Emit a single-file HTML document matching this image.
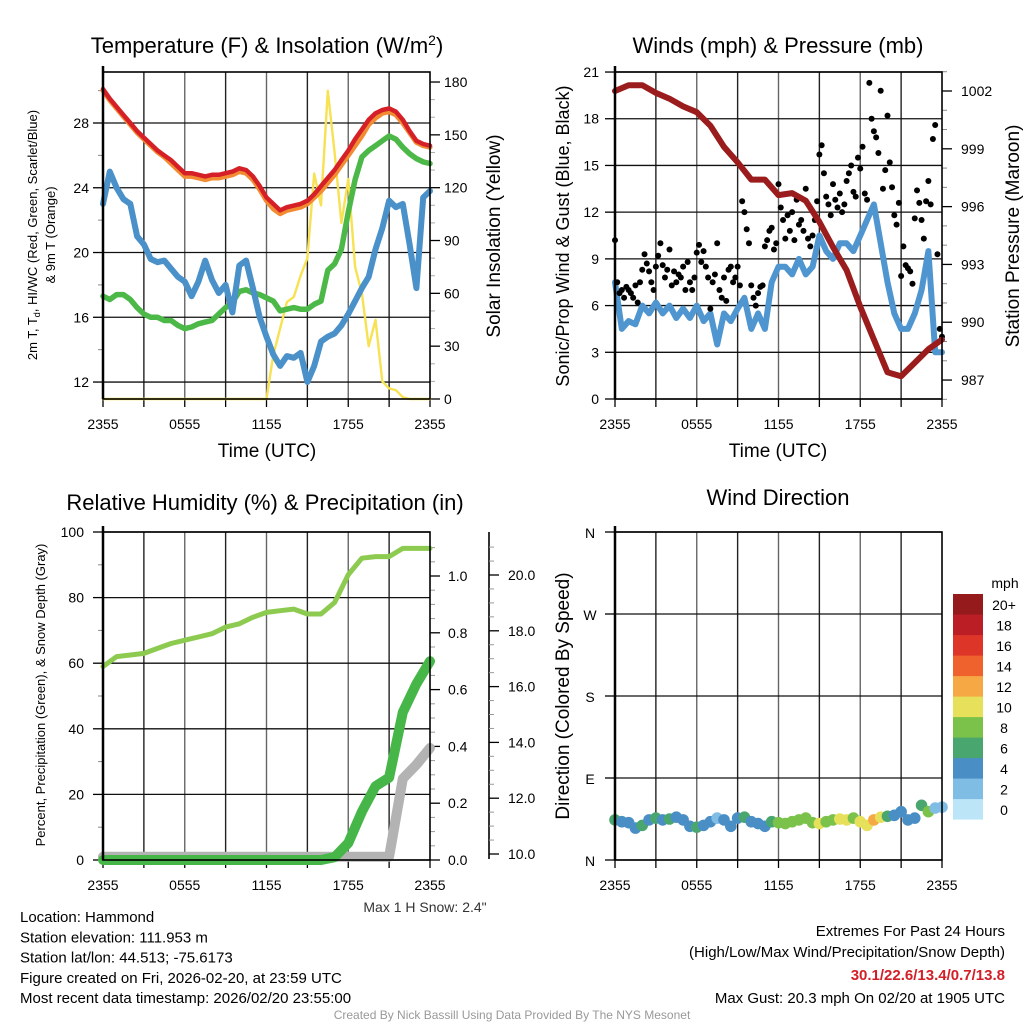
<!DOCTYPE html>
<html><head><meta charset="utf-8"><style>
html,body{margin:0;padding:0;background:#fff;}
svg{display:block;font-family:"Liberation Sans",Arial,sans-serif;}
</style></head><body>
<svg id="s" width="1024" height="1024" viewBox="0 0 1024 1024" xmlns="http://www.w3.org/2000/svg">
<rect x="0" y="0" width="1024" height="1024" fill="#fff"/>
</svg>
<script>
// ---------- DATA ----------
const timeTicks = ["2355","0555","1155","1755","2355"];
const tempF = [30.1,29.5,29.0,28.5,28.0,27.5,27.1,26.7,26.3,26.0,25.7,25.3,24.9,24.9,24.8,24.7,24.8,24.8,24.9,25.0,25.2,25.1,24.7,24.1,23.4,23.0,22.6,22.8,22.9,23.0,23.2,23.6,24.1,24.6,25.1,25.7,26.3,27.0,27.6,28.2,28.6,28.8,28.9,28.7,28.2,27.5,26.9,26.7,26.6];
const temp9m = [30.0,29.4,28.9,28.4,27.9,27.4,27.0,26.6,26.2,25.9,25.5,25.1,24.7,24.7,24.6,24.5,24.6,24.6,24.7,24.8,25.0,24.9,24.5,23.9,23.2,22.7,22.4,22.6,22.7,22.8,23.0,23.4,23.8,24.3,24.8,25.4,26.0,26.6,27.2,27.9,28.3,28.6,28.7,28.5,28.0,27.4,26.8,26.6,26.5];
const hiwc = [17.3,17.1,17.4,17.4,17.1,16.6,16.2,16.0,16.0,15.8,15.8,15.5,15.3,15.4,15.6,15.7,15.8,16.2,16.6,16.9,17.6,17.7,17.5,17.4,17.2,17.0,16.4,16.5,16.6,16.5,16.5,16.8,17.0,18.9,19.3,20.2,22.5,24.5,25.9,26.3,26.6,26.9,27.2,27.0,26.5,26.1,25.8,25.6,25.5];
const dewF = [23.0,25.0,24.0,23.3,23.0,21.0,20.5,19.6,19.4,19.5,19.0,18.5,18.2,17.3,18.2,19.5,18.3,17.5,18.0,16.3,19.2,19.5,17.8,16.0,14.8,13.7,13.0,13.6,13.5,13.8,12.0,13.0,14.5,14.8,15.0,15.5,16.2,17.0,17.8,18.5,20.2,21.5,23.2,22.8,23.0,20.5,17.8,23.4,23.8];
const solar = [0,0,0,0,0,0,0,0,0,0,0,0,0,0,0,0,0,0,0,0,0,0,0,0,0,25,40,55,58,70,80,128,110,175,140,100,125,75,60,30,45,10,6,5,1,0,0,0,0];
const windMph = [7.5,4.5,5.0,4.8,6.0,5.5,6.2,5.5,6.0,5.2,5.8,5.2,6.0,5.0,5.5,3.5,5.5,5.0,5.8,6.5,4.5,5.5,4.5,7.5,8.5,8.5,8.0,9.0,8.0,8.5,10.5,9.5,9.0,10.0,10.0,9.5,10.5,11.5,12.5,10.0,7.5,5.5,4.5,4.5,5.5,7.0,9.5,3.0,3.0];
const gustMph = [10.2,7.5,6.8,7.0,6.5,7.2, 7.0,6.8,6.5,7.3,6.2,7.5, 8.3,9.3,8.7,8.2,7.5,7.0, 8.5,9.2,10.0,8.6,7.8,8.3, 9.6,7.3,8.2,7.5,8.0,7.8, 8.5,7.0,8.8,7.5,7.0,7.8, 9.4,9.9,8.8,9.5,8.5,7.8, 5.8,7.5,8.0,10.0,7.0,6.5, 7.8,6.3,8.3,8.5,7.5,7.8, 8.5,7.3,12.7,12.0,10.9,10.0, 7.3,6.5,6.0,6.8,7.2,7.3, 9.8,10.2,10.8,11.0,9.6,10.0, 13.8,12.3,11.5,10.3,11.8,10.8, 12.0,10.2,12.8,11.2,11.5,10.8, 13.5,10.3,9.8,10.5,11.5,12.7, 15.7,16.3,14.5,13.0,12.5,11.8, 13.8,12.8,12.3,13.2,12.0,12.5, 14.0,14.5,15.0,13.3,13.0,15.5, 14.8,16.2,13.2,12.8,20.3,18.0, 17.2,16.8,15.8,19.8,13.5,14.7, 18.2,15.2,13.6,11.8,11.2,12.6, 7.9,9.8,8.6,8.4,8.2,7.4, 11.6,13.4,12.6,11.5,10.3,12.7, 14.0,12.5,16.7,17.6,9.3,4.5, 4.0];
const pressureMb = [1002.0,1002.3,1002.3,1001.9,1001.6,1001.2,1000.9,1000.2,999.1,998.3,997.4,997.4,996.6,996.7,996.3,995.2,993.9,992.7,990.8,989.1,987.4,987.2,987.9,988.6,989.1];
const rhPct = [59,62,62.5,63,64.5,66,67,68,69,71,72,74,75.5,76,76.5,75,75,78.5,87,92,92.5,92.5,95,95,95];
const precipIn = [0,0,0,0,0,0,0,0,0,0,0,0,0,0,0,0,0,0.01,0.06,0.17,0.26,0.29,0.52,0.62,0.70];
const snowIn = [9.9,9.9,9.9,9.9,9.9,9.9,9.9,9.9,9.9,9.9,9.9,9.9,9.9,9.9,9.9,9.9,9.9,9.9,9.9,9.9,9.9,9.9,12.7,13.2,13.8];
const windDir = [44,42,41,35,38,44,46,44,45,47,44,37,36,38,42,46,44,37,46,47,42,40,37,42,41,40,42,44,46,41,40,42,44,45,44,46,42,38,44,47,48,49,53,44,46,60,53,57,58];
const tempTicks = [12,16,20,24,28];
const solarTicks = [0,30,60,90,120,150,180];
const windTicks = [0,3,6,9,12,15,18,21];
const presTicks = [987,990,993,996,999,1002];
const rhTicks = [0,20,40,60,80,100];
const precipTicks = [0,0.2,0.4,0.6,0.8,1.0];
const snowTicks = [10,12,14,16,18,20];
const dirTicks = ["N","E","S","W","N"];
const speedBins = ["0","2","4","6","8","10","12","14","16","18","20+"];
const speedColors = ["#bde5f8","#80bde5","#4a8ec6","#4aa66f","#7bc24a","#e6e05a","#f6a845","#ef622d","#dd3528","#bb1f25","#941a1c"];

// ---------- HELPERS ----------
const S = document.getElementById('s');
const NS = 'http://www.w3.org/2000/svg';
function el(tag, attrs, name, parent){
  const e = document.createElementNS(NS, tag);
  for (const k in attrs) e.setAttribute(k, attrs[k]);
  
  
  (parent||S).appendChild(e);
  return e;
}
function txt(x,y,s,size,name,opts){
  opts=opts||{};
  const t = el('text',{x:x,y:y,'font-size':size,'text-anchor':opts.anchor||'middle',fill:opts.fill||'#000','font-weight':opts.weight||'normal'},name,opts.parent);
  if(opts.rot) t.setAttribute('transform','rotate('+opts.rot+' '+x+' '+y+')');
  t.textContent=s; return t;
}
function xs(x0,x1){return h=>x0+h/24*(x1-x0);}
function pathOf(vals, step, X, Y){
  return vals.map((v,i)=>(i?'L':'M')+X(i*step).toFixed(1)+' '+Y(v).toFixed(1)).join(' ');
}
function frame(g,x0,x1,y0,y1,pre){
  const X=xs(x0,x1);
  for(let h=3;h<24;h+=3){ el('line',{x1:X(h),x2:X(h),y1:y0,y2:y1,stroke:(h%6?'#222':'#666'),'stroke-width':1.4},pre+'-vgrid',g); }
  for(let h=0;h<=24;h+=3){ el('line',{x1:X(h),x2:X(h),y1:y1,y2:y1+8,stroke:'#000','stroke-width':1.3},pre+'-xtick',g); }
  timeTicks.forEach((s,i)=>txt(X(i*6),y1+30,s,14,pre+'-xtick-label',{parent:g}));
}
function hgrid(g,x0,x1,y,pre){ el('line',{x1:x0,x2:x1,y1:y,y2:y,stroke:'#111','stroke-width':1.3},pre+'-hgrid',g); }
function border(g,x0,x1,y0,y1,pre){ el('rect',{x:x0,y:y0,width:x1-x0,height:y1-y0,fill:'none',stroke:'#000','stroke-width':1.6},pre+'-border',g); el('line',{x1:x0,x2:x0,y1:y0-6,y2:y1,stroke:'#000','stroke-width':2.5},pre+'-left-spine',g);}
function line(g,d,color,w,name){ return el('path',{d:d,fill:'none',stroke:color,'stroke-width':w,'stroke-linejoin':'round','stroke-linecap':'round'},name,g); }

// ---------- PANEL 1 ----------
(function(){
  const g=el('g',{},'temperature-panel');
  const x0=103,x1=430,y0=72,y1=399, X=xs(x0,x1);
  const yT=v=>123+(28-v)*16.19, yS=v=>399-v*1.761;
  txt(267,53,'Temperature (F) & Insolation (W/m',22,'temperature-title',{parent:g}).innerHTML='Temperature (F) &amp; Insolation (W/m<tspan dy="-8" font-size="14">2</tspan><tspan dy="8">)</tspan>';
  frame(g,x0,x1,y0,y1,'temp');
  tempTicks.forEach(v=>{hgrid(g,x0,x1,yT(v),'temp'); el('line',{x1:x0-10,x2:x0,y1:yT(v),y2:yT(v),stroke:'#000','stroke-width':1.3},'temp-ytick',g); txt(x0-14,yT(v)+5,String(v),14,'temp-ytick-label',{parent:g,anchor:'end'});});
  for(let v=14;v<=30;v+=4){ el('line',{x1:x0-5,x2:x0,y1:yT(v),y2:yT(v),stroke:'#888','stroke-width':1},'temp-minor-tick',g); }
  solarTicks.forEach(v=>{el('line',{x1:x1,x2:x1+10,y1:yS(v),y2:yS(v),stroke:'#000','stroke-width':1.3},'solar-ytick',g); txt(x1+14,yS(v)+5,String(v),14,'solar-ytick-label',{parent:g,anchor:'start'});});
  for(let v=10;v<180;v+=10){ if(v%30) el('line',{x1:x1,x2:x1+5,y1:yS(v),y2:yS(v),stroke:'#aaa','stroke-width':1},'solar-minor-tick',g); }
  line(g,pathOf(solar,0.5,X,yS),'#f6e253',2.4,'solar-insolation-line');
  line(g,pathOf(hiwc,0.5,X,yT),'#4cb848',5.5,'hi-wc-line');
  line(g,pathOf(dewF,0.5,X,yT),'#4a90c9',6,'dewpoint-line');
  line(g,pathOf(temp9m,0.5,X,yT),'#f28c33',5,'temp-9m-line');
  line(g,pathOf(tempF,0.5,X,yT),'#d62027',4.5,'temp-2m-line');
  border(g,x0,x1,y0,y1,'temp');
  txt(267,457,'Time (UTC)',19,'temp-x-title',{parent:g});
  const t1=txt(37,235,'',13,'temp-y-title',{parent:g,rot:-90});
  t1.innerHTML='2m T, T<tspan dy="3" font-size="9">d</tspan><tspan dy="-3">, HI/WC (Red, Green, Scarlet/Blue)</tspan>';
  txt(55,235,'& 9m T (Orange)',13,'temp-y-title-2',{parent:g,rot:-90});
  txt(500,236,'Solar Insolation (Yellow)',19,'solar-y-title',{parent:g,rot:-90});
})();

// ---------- PANEL 2 ----------
(function(){
  const g=el('g',{},'wind-panel');
  const x0=615,x1=942,y0=72,y1=399, X=xs(x0,x1);
  const yW=v=>399-v*15.57, yP=v=>91+(1002-v)*19.27;
  txt(778,53,'Winds (mph) & Pressure (mb)',22,'wind-title',{parent:g});
  frame(g,x0,x1,y0,y1,'wind');
  windTicks.forEach(v=>{hgrid(g,x0,x1,yW(v),'wind'); el('line',{x1:x0-10,x2:x0,y1:yW(v),y2:yW(v),stroke:'#000','stroke-width':1.3},'wind-ytick',g); txt(x0-16,yW(v)+5,String(v),14,'wind-ytick-label',{parent:g,anchor:'end'});});
  presTicks.forEach(v=>{el('line',{x1:x1,x2:x1+10,y1:yP(v),y2:yP(v),stroke:'#000','stroke-width':1.3},'pres-ytick',g); txt(x1+19,yP(v)+5,String(v),14,'pres-ytick-label',{parent:g,anchor:'start'});});
  for(let v=986;v<=1003;v++){ if(v%3) el('line',{x1:x1,x2:x1+5,y1:yP(v),y2:yP(v),stroke:'#888','stroke-width':1},'pres-minor-tick',g); }
  line(g,pathOf(windMph,0.5,X,yW),'#4f96d0',6,'sustained-wind-line');
  gustMph.forEach((v,i)=>{ el('circle',{cx:X(i/6),cy:yW(v),r:3,fill:'#000'},'gust-point',g); });
  line(g,pathOf(pressureMb,1,X,yP),'#9b1c1c',6,'pressure-line');
  border(g,x0,x1,y0,y1,'wind');
  txt(778,457,'Time (UTC)',19,'wind-x-title',{parent:g});
  txt(569,236,'Sonic/Prop Wind & Gust (Blue, Black)',18,'wind-y-title',{parent:g,rot:-90});
  txt(1019,236,'Station Pressure (Maroon)',19,'pres-y-title',{parent:g,rot:-90});
})();

// ---------- PANEL 3 ----------
(function(){
  const g=el('g',{},'humidity-panel');
  const x0=103,x1=430,y0=532,y1=860, X=xs(x0,x1);
  const yR=v=>860-v*3.28, yPr=v=>860-v*284, ySn=v=>854-(v-10)*27.9;
  txt(265,510,'Relative Humidity (%) & Precipitation (in)',22,'humidity-title',{parent:g});
  frame(g,x0,x1,y0,y1,'rh');
  rhTicks.forEach(v=>{hgrid(g,x0,x1,yR(v),'rh'); el('line',{x1:x0-10,x2:x0,y1:yR(v),y2:yR(v),stroke:'#000','stroke-width':1.3},'rh-ytick',g); txt(x0-19,yR(v)+5,String(v),14,'rh-ytick-label',{parent:g,anchor:'end'});});
  for(let v=10;v<100;v+=20){ el('line',{x1:x0-5,x2:x0,y1:yR(v),y2:yR(v),stroke:'#888','stroke-width':1},'rh-minor-tick',g); }
  precipTicks.forEach(v=>{el('line',{x1:x1,x2:x1+10,y1:yPr(v),y2:yPr(v),stroke:'#000','stroke-width':1.3},'precip-ytick',g); txt(x1+18,yPr(v)+5,v.toFixed(1),14,'precip-ytick-label',{parent:g,anchor:'start'});});
  for(let v=0.05;v<1.15;v+=0.05){ if(Math.round(v*100)%20) el('line',{x1:x1,x2:x1+5,y1:yPr(v),y2:yPr(v),stroke:'#999','stroke-width':1},'precip-minor-tick',g); }
  el('line',{x1:489,x2:489,y1:532,y2:859,stroke:'#000','stroke-width':1.6},'snow-axis',g);
  snowTicks.forEach(v=>{el('line',{x1:489,x2:499,y1:ySn(v),y2:ySn(v),stroke:'#000','stroke-width':1.3},'snow-ytick',g); txt(508,ySn(v)+5,v.toFixed(1),14,'snow-ytick-label',{parent:g,anchor:'start'});});
  for(let v=10.5;v<21.5;v+=0.5){ if(v%2) el('line',{x1:489,x2:494,y1:ySn(v),y2:ySn(v),stroke:'#999','stroke-width':1},'snow-minor-tick',g); }
  line(g,pathOf(snowIn,1,X,ySn),'#b3b3b3',10,'snow-depth-line');
  line(g,pathOf(precipIn,1,X,yPr),'#46b648',10,'precip-line');
  line(g,pathOf(rhPct,1,X,yR),'#8dcb50',5,'rh-line');
  border(g,x0,x1,y0,y1,'rh');
  txt(45,695,'Percent, Precipitation (Green), & Snow Depth (Gray)',13,'rh-y-title',{parent:g,rot:-90});
  txt(425,912,'Max 1 H Snow: 2.4"',14,'max-snow-label',{parent:g,fill:'#333'});
})();

// ---------- PANEL 4 ----------
(function(){
  const g=el('g',{},'direction-panel');
  const x0=615,x1=942,y0=532,y1=860, X=xs(x0,x1);
  const yD=d=>860-d*328/360;
  txt(778,505,'Wind Direction',22,'direction-title',{parent:g});
  frame(g,x0,x1,y0,y1,'dir');
  dirTicks.forEach((s,i)=>{const y=yD(i*90); hgrid(g,x0,x1,y,'dir'); el('line',{x1:x0-10,x2:x0,y1:y,y2:y,stroke:'#000','stroke-width':1.3},'dir-ytick',g); txt(x0-25,y+6,s,14,'dir-ytick-label',{parent:g});});
  windDir.forEach((d,i)=>{
    const sp=windMph[i]; const b=Math.min(10,Math.floor(sp/2));
    el('circle',{cx:X(i*0.5),cy:yD(d),r:5.8,fill:speedColors[b]},'direction-point',g);
  });
  border(g,x0,x1,y0,y1,'dir');
  txt(569,696,'Direction (Colored By Speed)',19,'dir-y-title',{parent:g,rot:-90});
  txt(1005,588,'mph',14,'colorbar-title',{parent:g});
  speedColors.forEach((c,i)=>{
    const y=594+(10-i)*20.5;
    el('rect',{x:953,y:y,width:30,height:20.6,fill:c},'colorbar-swatch',g);
    txt(1004,y+16,speedBins[i],14,'colorbar-label',{parent:g});
  });
})();

// ---------- FOOTER ----------
(function(){
  const g=el('g',{},'footer');
  const L=["Location: Hammond","Station elevation: 111.953 m","Station lat/lon: 44.513; -75.6173","Figure created on Fri, 2026-02-20, at 23:59 UTC","Most recent data timestamp: 2026/02/20 23:55:00"];
  L.forEach((s,i)=>txt(20,922+i*20.3,s,15,'station-info-line',{parent:g,anchor:'start'}));
  txt(1005,936,'Extremes For Past 24 Hours',15,'extremes-title',{parent:g,anchor:'end'});
  txt(1005,957,'(High/Low/Max Wind/Precipitation/Snow Depth)',15,'extremes-subtitle',{parent:g,anchor:'end'});
  txt(1005,980,'30.1/22.6/13.4/0.7/13.8',15,'extremes-values',{parent:g,anchor:'end',fill:'#d12027',weight:'bold'});
  txt(1005,1003,'Max Gust: 20.3 mph On 02/20 at 1905 UTC',15,'max-gust-label',{parent:g,anchor:'end'});
  txt(512,1019,'Created By Nick Bassill Using Data Provided By The NYS Mesonet',12,'credit-label',{parent:g,fill:'#999'});
})();
</script>
</body></html>
